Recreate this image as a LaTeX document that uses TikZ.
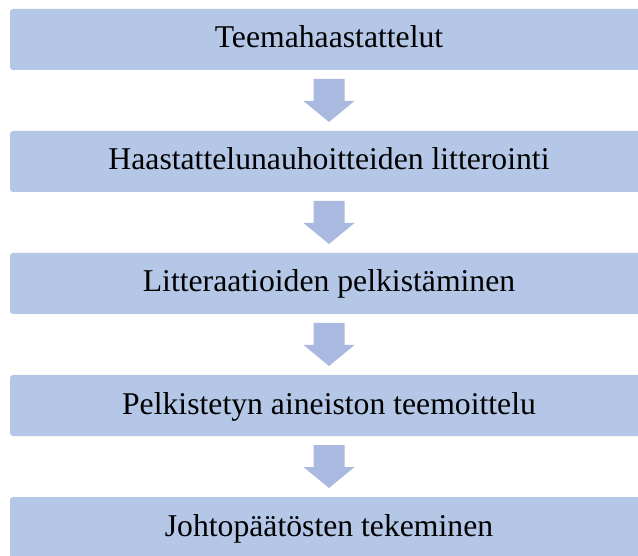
\documentclass[tikz,border=0pt]{standalone}
\usepackage{fontspec}
\setmainfont{Liberation Serif}
\usetikzlibrary{calc}
\definecolor{boxblue}{HTML}{B4C7E7}
\definecolor{arrowblue}{HTML}{AAB9E0}
\tikzset{
  stagebox/.style={rectangle, rounded corners=3pt, fill=boxblue, draw=none,
    minimum width=638pt, minimum height=61pt, inner sep=0pt,
    text height=22pt, text depth=5pt,
    font=\fontsize{31.7}{36}\selectfont, text=black},
  downarrow/.pic={\fill[arrowblue] (-15.5,21.5) -- (15.5,21.5) -- (15.5,-0.5) -- (25.5,-0.5)
      -- (0,-21.5) -- (-25.5,-0.5) -- (-15.5,-0.5) -- cycle;}
}
\begin{document}
\begin{tikzpicture}[x=1pt,y=1pt]
\useasboundingbox (0,0) rectangle (638,-556);
\clip (0,0) rectangle (638,-556);
\fill[white] (0,0) rectangle (638,-556);
\node[stagebox] (b1) at (329,-39.5) {Teemahaastattelut};
\node[stagebox] (b2) at (329,-161.5) {Haastattelunauhoitteiden litterointi};
\node[stagebox] (b3) at (329,-283.5) {Litteraatioiden pelkistäminen};
\node[stagebox] (b4) at (329,-405.5) {Pelkistetyn aineiston teemoittelu};
\node[stagebox] (b5) at (329,-527.5) {Johtopäätösten tekeminen};
\path ($(b1.south)!0.5!(b2.north)$) pic {downarrow};
\path ($(b2.south)!0.5!(b3.north)$) pic {downarrow};
\path ($(b3.south)!0.5!(b4.north)$) pic {downarrow};
\path ($(b4.south)!0.5!(b5.north)$) pic {downarrow};
\end{tikzpicture}
\end{document}
